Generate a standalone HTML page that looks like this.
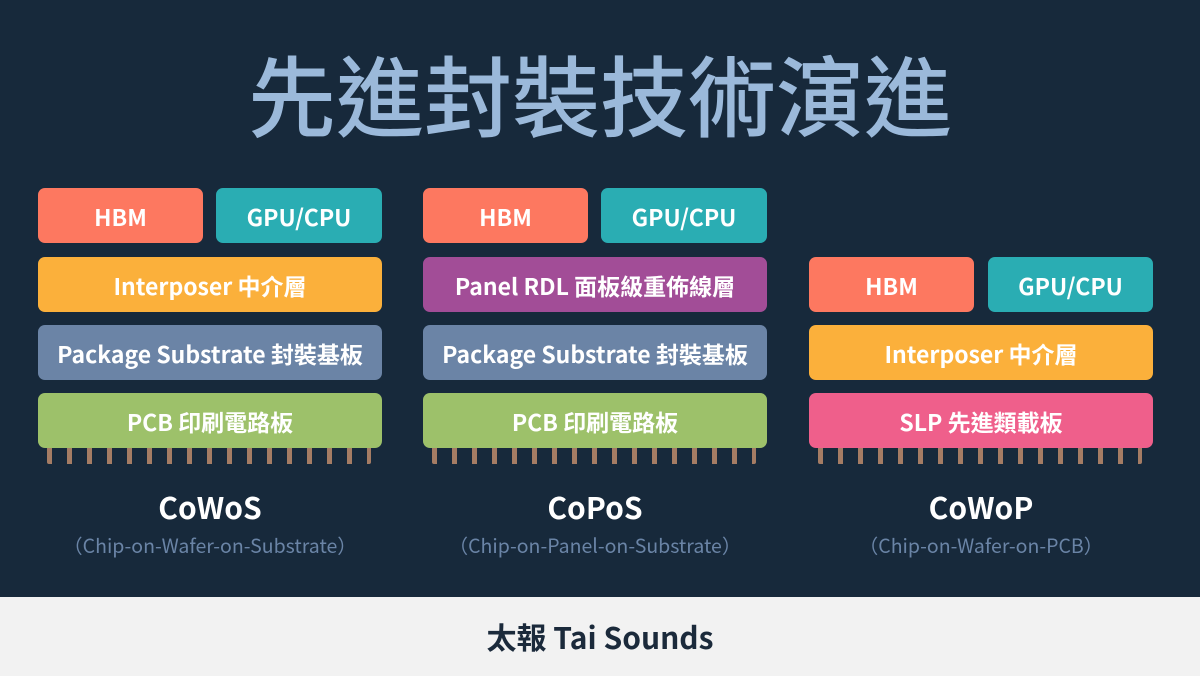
<!DOCTYPE html>
<html><head><meta charset="utf-8"><style>
*{margin:0;padding:0;box-sizing:border-box}
body{width:1200px;height:676px;background:#17293b;position:relative;overflow:hidden;font-family:"Liberation Sans","Noto Sans CJK TC",sans-serif}
.t{position:absolute;left:0;width:1200px;top:38px;text-align:center;font-size:88px;line-height:110px;color:#9bb9da;font-family:"Noto Sans CJK TC",sans-serif;font-weight:500}
.b{position:absolute;height:55px;border-radius:7px;color:#fff;font-family:"Noto Sans CJK TC",sans-serif;font-weight:700;font-size:23px;display:flex;align-items:center;justify-content:center;white-space:nowrap}
.pins{position:absolute;top:448px;height:16px;width:324px;background:repeating-linear-gradient(to right,#a57c64 0 5px,transparent 5px 20px);border-radius:0 0 2px 2px}
.n{position:absolute;width:344px;text-align:center;color:#fff;font-family:"Noto Sans CJK TC",sans-serif;font-weight:700;font-size:30px;top:486px;line-height:40px}
.s{position:absolute;width:344px;text-align:center;color:#6a84a6;font-family:"Noto Sans CJK TC",sans-serif;font-size:19.5px;top:531px;line-height:28px}
.f{position:absolute;left:0;top:597px;width:1200px;height:79px;background:#f2f2f2;text-align:center;font-family:"Noto Sans CJK TC",sans-serif;font-weight:700;font-size:30px;line-height:79px;color:#1b2a3b}
</style></head><body>
<div class="t">先進封裝技術演進</div>

<div class="b" style="left:38px;top:188px;width:165px;background:#fd7860">HBM</div>
<div class="b" style="left:216px;top:188px;width:166px;background:#2aadb3">GPU/CPU</div>
<div class="b" style="left:38px;top:257px;width:344px;background:#fbb03b">Interposer 中介層</div>
<div class="b" style="left:38px;top:325px;width:344px;background:#6b84a6">Package Substrate 封裝基板</div>
<div class="b" style="left:38px;top:393px;width:344px;background:#9dc16a">PCB 印刷電路板</div>
<div class="pins" style="left:47px"></div>
<div class="n" style="left:38px">CoWoS</div>
<div class="s" style="left:38px">（Chip-on-Wafer-on-Substrate）</div>

<div class="b" style="left:423px;top:188px;width:165px;background:#fd7860">HBM</div>
<div class="b" style="left:601px;top:188px;width:166px;background:#2aadb3">GPU/CPU</div>
<div class="b" style="left:423px;top:257px;width:344px;background:#a24d97">Panel RDL 面板級重佈線層</div>
<div class="b" style="left:423px;top:325px;width:344px;background:#6b84a6">Package Substrate 封裝基板</div>
<div class="b" style="left:423px;top:393px;width:344px;background:#9dc16a">PCB 印刷電路板</div>
<div class="pins" style="left:432px"></div>
<div class="n" style="left:423px">CoPoS</div>
<div class="s" style="left:423px">（Chip-on-Panel-on-Substrate）</div>

<div class="b" style="left:809px;top:257px;width:165px;background:#fd7860">HBM</div>
<div class="b" style="left:988px;top:257px;width:165px;background:#2aadb3">GPU/CPU</div>
<div class="b" style="left:809px;top:325px;width:344px;background:#fbb03b">Interposer 中介層</div>
<div class="b" style="left:809px;top:393px;width:344px;background:#ef5f8b">SLP 先進類載板</div>
<div class="pins" style="left:818px"></div>
<div class="n" style="left:809px">CoWoP</div>
<div class="s" style="left:809px">（Chip-on-Wafer-on-PCB）</div>

<div class="f">太報 Tai Sounds</div>
</body></html>
